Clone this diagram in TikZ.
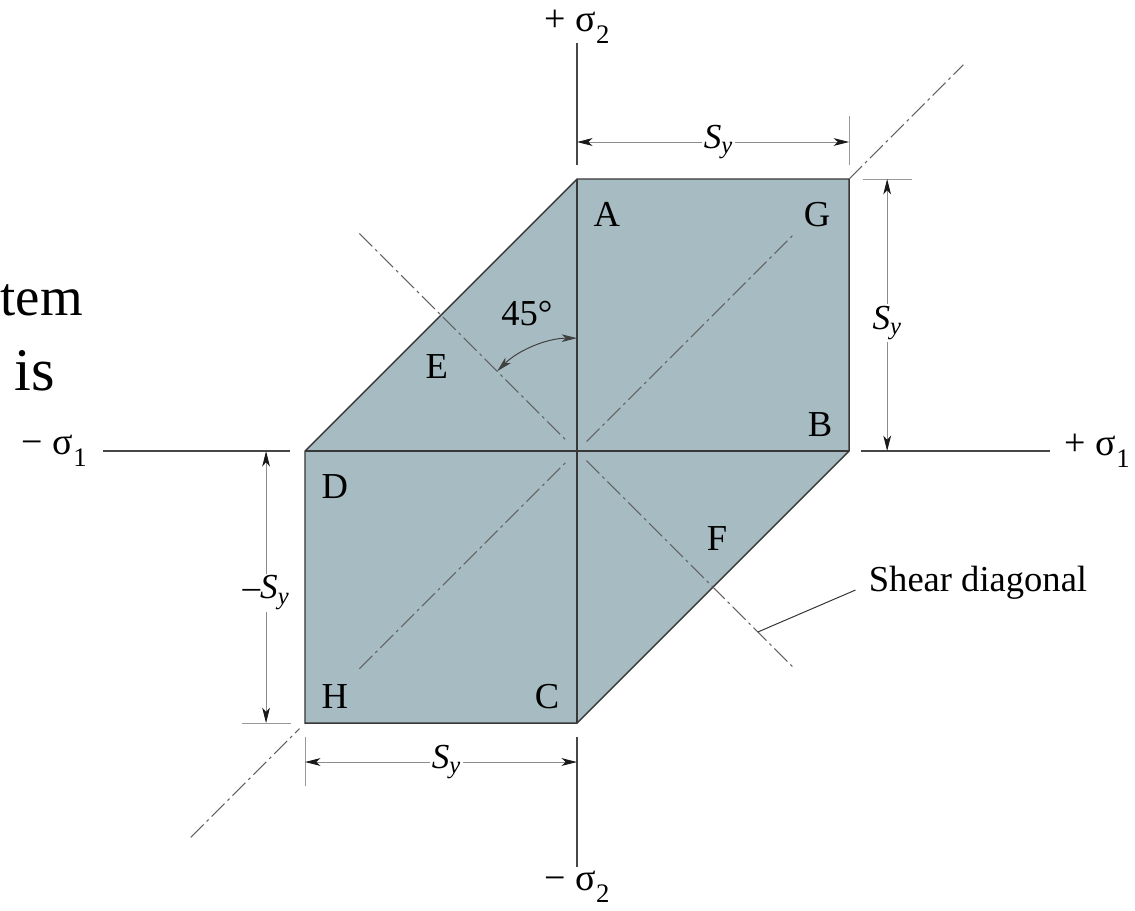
\documentclass[tikz,border=0pt]{standalone}
\usepackage{fontspec}
\setmainfont{Liberation Serif}
\usetikzlibrary{arrows.meta}
\definecolor{plate}{RGB}{166,188,194}
\tikzset{
  edge/.style={draw=black!78, line width=1pt},
  axis/.style={draw=black!72, line width=1pt},
  extline/.style={draw=black!40, line width=0.6pt},
  dimline/.style={draw=black!45, line width=0.6pt,
    {Stealth[length=11pt,width=5.5pt,inset=3pt,black!90]}-{Stealth[length=11pt,width=5.5pt,inset=3pt,black!90]}},
  centerline/.style={draw=black!62, line width=0.75pt,
    dash pattern=on 13pt off 3pt on 2pt off 3pt},
  corner/.style={font=\fontsize{26}{30}\selectfont},
  axlabel/.style={font=\fontsize{27}{32}\selectfont, inner sep=2pt},
  dimlabel/.style={fill=white, inner sep=1.5pt, font=\fontsize{25}{29}\selectfont},
  slide/.style={inner sep=0pt, anchor=base east},
}
\newcommand{\Sy}{\textit{S}\textsubscript{\textit{y}}}
\newcommand{\sig}[2]{#1 σ\raisebox{-0.32em}{\fontsize{19}{20}\selectfont #2}}

\begin{document}
\begin{tikzpicture}[x=6.8cm, y=6.8cm]
\useasboundingbox (-2.121,-1.688) rectangle (2.051,1.658);

% left-over slide text
\node[slide, font=\fontsize{39}{46}\selectfont] (tem) at (-1.816,0.5) {tem};
\node[slide, font=\fontsize{43}{50}\selectfont] (is) at (-1.919,0.224) {is};

% corners
\coordinate (O) at (0,0);
\coordinate (A) at (0,1);
\coordinate (G) at (1,1);
\coordinate (B) at (1,0);
\coordinate (C) at (0,-1);
\coordinate (H) at (-1,-1);
\coordinate (D) at (-1,0);

\draw[edge, fill=plate] (D) -- (A) -- (G) -- (B) -- (C) -- (H) -- cycle;
\draw[edge] (A) -- (C);
\draw[edge] (D) -- (B);

% axes
\draw[axis] (0,1.05) -- (0,1.5) node[axlabel, above, yshift=-3pt] (s2p) {\sig{+}{2}};
\draw[axis] (0,-1.05) -- (0,-1.53) node[axlabel, below] (s2m) {\sig{−}{2}};
\draw[axis] (-1.055,0) -- (-1.743,0) node[axlabel, left, xshift=-9pt] (s1m) {\sig{−}{1}};
\draw[axis] (1.044,0) -- (1.739,0) node[axlabel, right, xshift=8pt] (s1p) {\sig{+}{1}};

% diagonals
\draw[centerline] (-1.42,-1.42) -- (-1.02,-1.02);
\draw[centerline] (1,1) -- (1.42,1.42);
\draw[centerline] (-0.8,-0.8) -- (-0.035,-0.035);
\draw[centerline] (0.035,0.035) -- (0.8,0.8);
\draw[centerline] (-0.8,0.8) -- (-0.035,0.035);
\draw[centerline] (0.035,-0.035) -- (0.8,-0.8);

% dimensions
\draw[extline] (1,1.05) -- (1,1.23);
\draw[dimline] (0,1.136) -- (1,1.136) node[dimlabel, pos=0.52] (dtop) {\Sy};
\draw[extline] (1.05,1) -- (1.23,1);
\draw[dimline] (1.14,1) -- (1.14,0) node[dimlabel, pos=0.53] (dright) {\Sy};
\draw[extline] (-1.23,-1) -- (-1.05,-1);
\draw[dimline] (-1.143,0) -- (-1.143,-1) node[dimlabel, pos=0.52] (dleft) {–\Sy};
\draw[extline] (-1,-1.05) -- (-1,-1.23);
\draw[dimline] (-1,-1.143) -- (0,-1.143) node[dimlabel, pos=0.52] (dbot) {\Sy};

% 45 degree arc
\draw[black!75, line width=0.7pt, {Stealth[length=11pt,width=5.5pt,inset=3pt]}-{Stealth[length=11pt,width=5.5pt,inset=3pt]}]
  (0,0.415) arc (90:135:0.415);
\node[corner] (ang) at (-0.184,0.507) {45°};

% corner letters
\node[corner] (lA) at (0.110,0.871) {A};
\node[corner] (lG) at (0.882,0.871) {G};
\node[corner] (lB) at (0.893,0.096) {B};
\node[corner] (lD) at (-0.890,-0.132) {D};
\node[corner] (lH) at (-0.890,-0.904) {H};
\node[corner] (lC) at (-0.110,-0.904) {C};
\node[corner] (lE) at (-0.515,0.309) {E};
\node[corner] (lF) at (0.515,-0.320) {F};

% shear diagonal label
\node[font=\fontsize{26}{30}\selectfont] (shear) at (1.474,-0.485) {Shear diagonal};
\coordinate (foot) at (0.665,-0.665);
\draw[black!80, line width=0.7pt] ([xshift=-6pt,yshift=-5pt]shear.west) -- (foot);
\end{tikzpicture}
\end{document}
